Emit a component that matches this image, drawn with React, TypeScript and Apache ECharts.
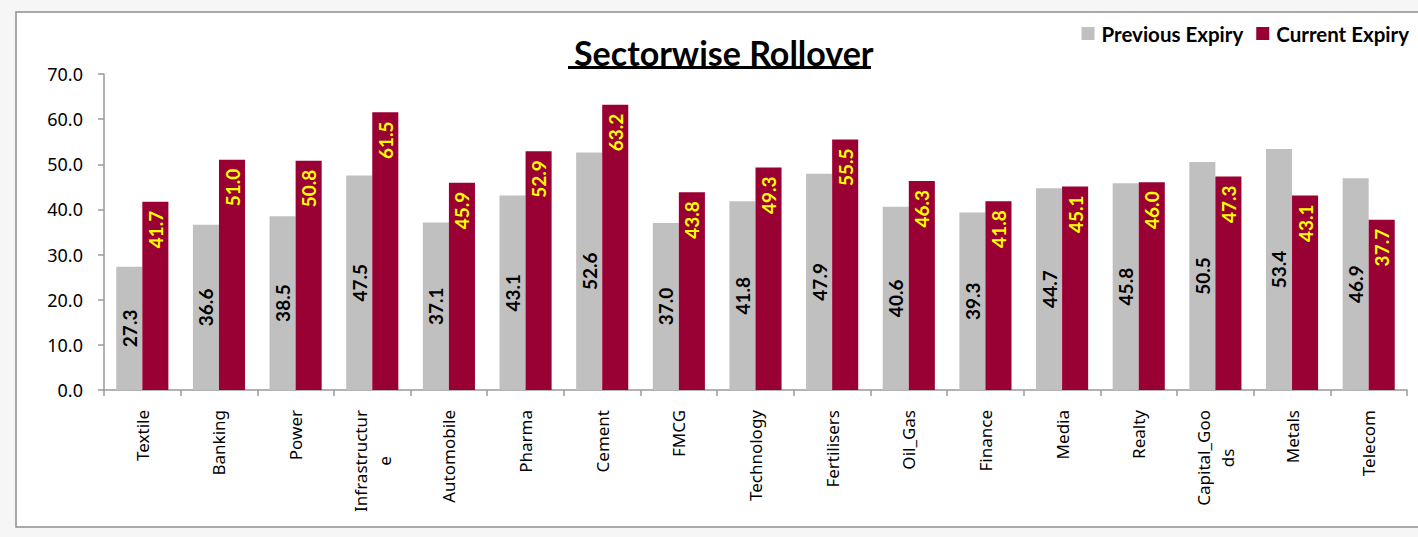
import React, { useEffect, useRef } from "react";
import * as echarts from "echarts";

const categories = [
  "Textile", "Banking", "Power", "Infrastructure", "Automobile", "Pharma", "Cement",
  "FMCG", "Technology", "Fertilisers", "Oil_Gas", "Finance", "Media", "Realty",
  "Capital_Goods", "Metals", "Telecom",
];
const tickLabels = [
  "Textile", "Banking", "Power", "Infrastructur\ne", "Automobile", "Pharma", "Cement",
  "FMCG", "Technology", "Fertilisers", "Oil_Gas", "Finance", "Media", "Realty",
  "Capital_Goo\nds", "Metals", "Telecom",
];
const previousExpiry = [27.3, 36.6, 38.5, 47.5, 37.1, 43.1, 52.6, 37.0, 41.8, 47.9, 40.6, 39.3, 44.7, 45.8, 50.5, 53.4, 46.9];
const currentExpiry = [41.7, 51.0, 50.8, 61.5, 45.9, 52.9, 63.2, 43.8, 49.3, 55.5, 46.3, 41.8, 45.1, 46.0, 47.3, 43.1, 37.7];
const yTicks = { min: 0, max: 70, interval: 10 };

const AXIS_FONT = "'Noto Sans', 'Open Sans', sans-serif";
const BOLD_FONT = "Lato";

export default function App() {
  const ref = useRef<HTMLDivElement>(null);
  useEffect(() => {
    if (!ref.current) return;
    const chart = echarts.init(ref.current, undefined, { renderer: "svg" });
    const option: any = {
      animation: false,
      backgroundColor: "#f6f6f6",
      graphic: [
        {
          type: "rect",
          z: -1,
          shape: { x: 16, y: 12, width: 1420, height: 515 },
          style: { fill: "#ffffff", stroke: "#8e8e8e", lineWidth: 1.5 },
        },
        {
          type: "line",
          z: 100,
          shape: { x1: 568, y1: 67.5, x2: 871, y2: 67.5 },
          style: { stroke: "#000", lineWidth: 3 },
        },
      ],
      title: {
        text: "Sectorwise Rollover",
        left: 569,
        top: 30,
        textStyle: { fontFamily: BOLD_FONT, fontWeight: "bold", fontSize: 34, color: "#000" },
      },
      legend: {
        right: 4,
        top: 18,
        itemWidth: 13,
        itemHeight: 13,
        itemGap: 13,
        icon: "rect",
        textStyle: { fontFamily: BOLD_FONT, fontWeight: "bold", fontSize: 20.5, color: "#000", padding: [0, 0, 0, 2] },
        data: ["Previous Expiry", "Current Expiry"],
      },
      grid: { left: 104, right: 11, top: 74, bottom: 147 },
      xAxis: {
        type: "category",
        data: categories,
        axisLine: { lineStyle: { color: "#9a9a9a", width: 1.5 } },
        axisTick: { show: true, alignWithLabel: false, length: 6, lineStyle: { color: "#9a9a9a", width: 1.5 } },
        axisLabel: {
          rotate: 90,
          margin: 20,
          interval: 0,
          fontFamily: AXIS_FONT,
          fontSize: 17,
          color: "#000",
          lineHeight: 24,
          formatter: (_v: string, i: number) =>
            tickLabels[i].split("\n").map((l) => `{a|${l}}`).join("\n"),
          rich: { a: { align: "center", fontFamily: AXIS_FONT, fontSize: 17, color: "#000", lineHeight: 24 } },
        },
      },
      yAxis: {
        type: "value",
        min: yTicks.min,
        max: yTicks.max,
        interval: yTicks.interval,
        splitLine: { show: false },
        axisLine: { show: true, lineStyle: { color: "#9a9a9a", width: 1.5 } },
        axisTick: { show: true, length: 6, lineStyle: { color: "#9a9a9a", width: 1.5 } },
        axisLabel: {
          margin: 21,
          formatter: (v: number) => v.toFixed(1),
          fontFamily: AXIS_FONT,
          fontSize: 18,
          color: "#000",
        },
      },
      series: [
        {
          name: "Previous Expiry",
          type: "bar",
          data: previousExpiry,
          barGap: "0%",
          barCategoryGap: "32%",
          itemStyle: { color: "#c0c0c0" },
          label: {
            show: true,
            position: "inside",
            rotate: 90,
            formatter: (p: any) => Number(p.value).toFixed(1),
            fontFamily: BOLD_FONT,
            fontWeight: "bold",
            fontSize: 19,
            color: "#000",
          },
        },
        {
          name: "Current Expiry",
          type: "bar",
          data: currentExpiry,
          barGap: "0%",
          barCategoryGap: "32%",
          itemStyle: { color: "#990033" },
          label: {
            show: true,
            position: "insideTop",
            distance: 9,
            rotate: 90,
            align: "right",
            verticalAlign: "middle",
            formatter: (p: any) => Number(p.value).toFixed(1),
            fontFamily: BOLD_FONT,
            fontWeight: "bold",
            fontSize: 19,
            color: "#ffff00",
          },
        },
      ],
    };
    chart.setOption(option);
    return () => chart.dispose();
  }, []);
  return (
    <div
      ref={ref}
      style={{ position: "absolute", left: 0, top: 0, width: 1418, height: 537 }}
    />
  );
}
